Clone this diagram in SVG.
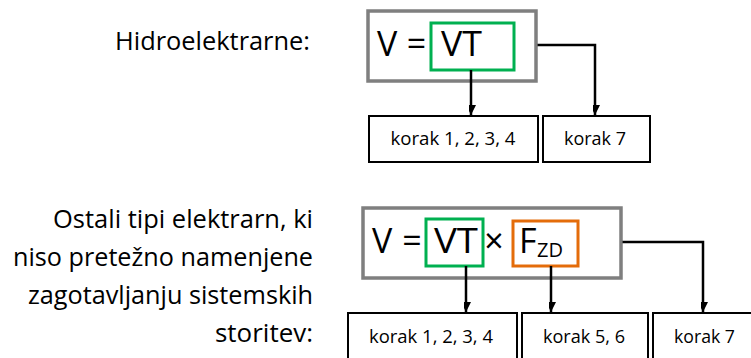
<svg xmlns="http://www.w3.org/2000/svg" width="751" height="358" viewBox="0 0 751 358">
<style>
.lbl{font-family:"Open Sans","Liberation Sans",sans-serif;font-size:26px;fill:#000;text-anchor:end}
.frm{font-family:"Open Sans","Liberation Sans",sans-serif;font-size:34px;fill:#000}
.sub{font-family:"Open Sans","Liberation Sans",sans-serif;font-size:20px;fill:#000}
.step{font-family:"Open Sans","Liberation Sans",sans-serif;font-size:19px;fill:#000;text-anchor:middle}
.outer{fill:#fff;stroke:#7f7f7f;stroke-width:3.5}
.vt{fill:none;stroke:#00b050;stroke-width:3}
.fzd{fill:none;stroke:#e46c0a;stroke-width:3}
.box{fill:#fff;stroke:#000;stroke-width:2}
.conn{fill:none;stroke:#000;stroke-width:2.5;marker-end:url(#ah)}
</style>
<defs>
<marker id="ah" markerUnits="userSpaceOnUse" markerWidth="20" markerHeight="20" viewBox="-10 -18 20 20" refX="0" refY="0" orient="auto-start-reverse">
<path d="M0,0 L-8,-16 L0,-10 L8,-16 Z" fill="#000" transform="rotate(-90)"/>
</marker>
</defs>
<rect width="751" height="358" fill="#fff"/>
<g id="label-hidro">
<text class="lbl" x="310" y="50" textLength="195" lengthAdjust="spacingAndGlyphs">Hidroelektrarne:</text>
</g>
<g id="label-ostali">
<text class="lbl" x="313" y="228" textLength="260" lengthAdjust="spacingAndGlyphs">Ostali tipi elektrarn, ki</text>
<text class="lbl" x="313" y="266" textLength="300" lengthAdjust="spacingAndGlyphs">niso pretežno namenjene</text>
<text class="lbl" x="313" y="304" textLength="285" lengthAdjust="spacingAndGlyphs">zagotavljanju sistemskih</text>
<text class="lbl" x="313" y="342" textLength="98" lengthAdjust="spacingAndGlyphs">storitev:</text>
</g>
<g id="formula-top">
<rect class="outer" x="368" y="11" width="168" height="70"/>
<text class="frm" x="377" y="56">V</text>
<text class="frm" x="416.5" y="56" text-anchor="middle">=</text>
<rect id="vt-top" class="vt" x="431" y="23" width="83" height="47"/>
<text class="frm" x="441" y="56" textLength="41" lengthAdjust="spacingAndGlyphs">VT</text>
</g>
<g id="formula-bottom">
<rect class="outer" x="363" y="208" width="258" height="70"/>
<text class="frm" x="372" y="253">V</text>
<text class="frm" x="412" y="253" text-anchor="middle">=</text>
<rect id="vt-bottom" class="vt" x="426" y="219" width="57" height="47"/>
<text class="frm" x="434" y="253" textLength="44" lengthAdjust="spacingAndGlyphs">VT</text>
<text class="frm" x="494" y="253" text-anchor="middle">×</text>
<rect id="fzd" class="fzd" x="513" y="221" width="65" height="45"/>
<text class="frm" x="519" y="253">F</text>
<text class="sub" x="537" y="257">ZD</text>
</g>
<g id="step-top-1234">
<rect class="box" x="369" y="116" width="169" height="46"/>
<text class="step" x="453" y="145" textLength="125" lengthAdjust="spacingAndGlyphs">korak 1, 2, 3, 4</text>
</g>
<g id="step-top-7">
<rect class="box" x="543" y="116" width="107" height="46"/>
<text class="step" x="595" y="145" textLength="62" lengthAdjust="spacingAndGlyphs">korak 7</text>
</g>
<g id="step-bot-1234">
<rect class="box" x="348" y="313" width="169" height="50"/>
<text class="step" x="431" y="343" textLength="124" lengthAdjust="spacingAndGlyphs">korak 1, 2, 3, 4</text>
</g>
<g id="step-bot-56">
<rect class="box" x="522" y="313" width="126" height="50"/>
<text class="step" x="584" y="343" textLength="82" lengthAdjust="spacingAndGlyphs">korak 5, 6</text>
</g>
<g id="step-bot-7">
<rect class="box" x="653" y="313" width="104" height="50"/>
<text class="step" x="704.5" y="343" textLength="61" lengthAdjust="spacingAndGlyphs">korak 7</text>
</g>
<g id="connectors">
<path class="conn" d="M471,70 V115"/>
<path class="conn" d="M537.5,45 H595 V115"/>
<path class="conn" d="M466,266 V312"/>
<path class="conn" d="M551,266 V312"/>
<path class="conn" d="M622.5,242 H703 V312"/>
</g>
</svg>
